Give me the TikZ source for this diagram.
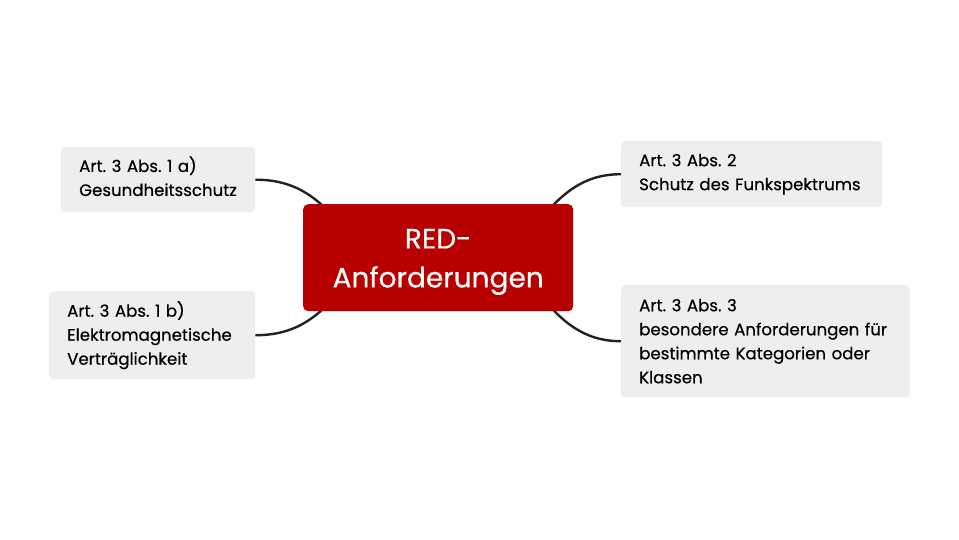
\documentclass[tikz,border=0pt]{standalone}
\usepackage{fontspec}
\setmainfont{Poppins}[FakeBold=0.4]
\frenchspacing
\begin{document}
\begin{tikzpicture}[x=1pt,y=-1pt,
  leaf/.style={fill=leafgray, rounded corners=4pt, align=left, inner xsep=18pt, inner ysep=0pt,
    font=\fontsize{16.6}{24}\selectfont, text=black, anchor=north west},
  hub/.style={fill=hubred, rounded corners=5pt, align=center, text=white,
    font=\fontsize{28}{39}\selectfont, anchor=north west, inner sep=0pt},
  link/.style={draw=linkdark, line width=2.4pt}]
\definecolor{leafgray}{HTML}{EEEEEE}
\definecolor{hubred}{HTML}{B90000}
\definecolor{linkdark}{HTML}{222222}
\useasboundingbox (0,0) rectangle (959,539);
\fill[white] (0,0) rectangle (959,539);
\node[leaf, text width=158pt, minimum height=65pt] (tl) at (61,147) {Art. 3 Abs. 1 a)\\Gesundheitsschutz\rule[-7pt]{0pt}{0pt}};
\node[leaf, text width=170pt, minimum height=88pt] (bl) at (49,291) {Art. 3 Abs. 1 b)\\Elektromagnetische\\Verträglichkeit};
\node[leaf, text width=225pt, minimum height=66pt] (tr) at (621,141) {Art. 3 Abs. 2\\Schutz des Funkspektrums};
\node[leaf, text width=253pt, minimum height=112pt] (br) at (621,285) {Art. 3 Abs. 3\\besondere Anforderungen für\\bestimmte Kategorien oder\\Klassen};
\coordinate (ctl) at (338,222);
\coordinate (cbl) at (338,293);
\coordinate (ctr) at (538,222);
\coordinate (cbr) at (538,293);
\draw[link] (tl.east) to[out=0,in=130] (ctl);
\draw[link] (bl.east) to[out=0,in=-130] (cbl);
\draw[link] (tr.west) to[out=180,in=50] (ctr);
\draw[link] (br.west) to[out=180,in=-50] (cbr);
\node[hub, minimum width=270pt, minimum height=107pt] (hub) at (303,204) {\rule{0pt}{28pt}RED-\\Anforderungen};
\end{tikzpicture}
\end{document}
